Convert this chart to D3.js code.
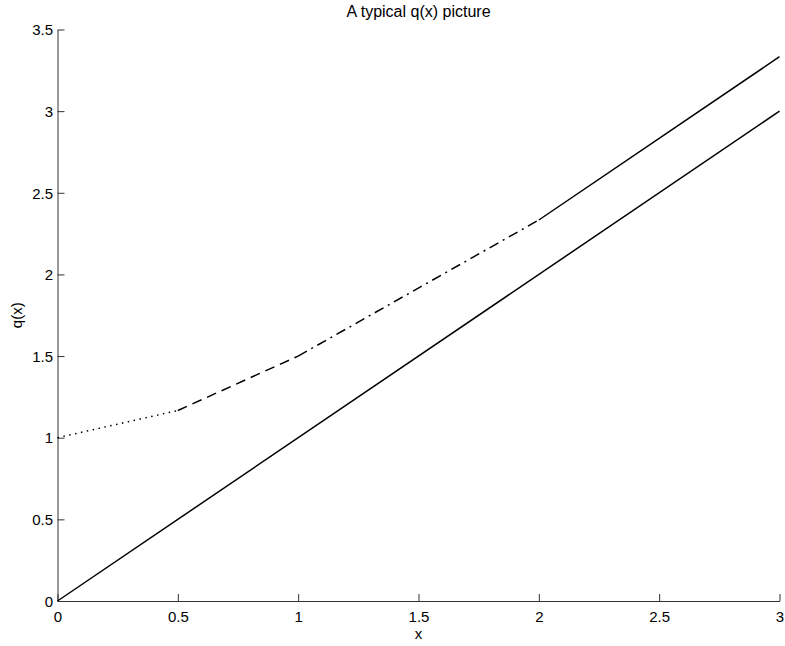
<!DOCTYPE html>
<html>
<head>
<meta charset="utf-8">
<script src="https://cdn.jsdelivr.net/npm/d3@7"></script>
<style>
  body { margin: 0; background: #fff; }
  text { font-family: "Liberation Sans", Arial, sans-serif; }
</style>
</head>
<body>
<div id="chart"></div>
<script>
const width = 785;
const height = 646;
const marginLeft = 57.5, marginRight = 5.5, marginTop = 29.5, marginBottom = 45;

// data
const xTicks = [0, 0.5, 1, 1.5, 2, 2.5, 3];
const yTicks = [0, 0.5, 1, 1.5, 2, 2.5, 3, 3.5];
const diagonal = [[0, 0], [3, 3]];
const dottedPart = [[0, 1], [0.5, 7 / 6]];
const dashedPart = [[0.5, 7 / 6], [1, 1.5]];
const dashDotPart = [[1, 1.5], [2, 7 / 3]];
const solidPart = [[2, 7 / 3], [3, 10 / 3]];

const svg = d3.select("#chart").append("svg")
    .attr("width", width)
    .attr("height", height);

const x = d3.scaleLinear().domain([0, 3]).range([marginLeft, width - marginRight]);
const y = d3.scaleLinear().domain([0, 3.5]).range([height - marginBottom, marginTop]);

// x axis
const xAxis = svg.append("g")
    .attr("transform", `translate(0,${y(0)})`)
    .call(d3.axisBottom(x).tickValues(xTicks).tickFormat(d3.format("")).tickSizeInner(-7).tickSizeOuter(0));
// y axis
const yAxis = svg.append("g")
    .attr("transform", `translate(${x(0)},0)`)
    .call(d3.axisLeft(y).tickValues(yTicks).tickFormat(d3.format("")).tickSizeInner(-7).tickSizeOuter(0));

[xAxis, yAxis].forEach(g => {
  g.attr("font-size", null).attr("font-family", null);
  g.select(".domain").attr("stroke", "#333").attr("stroke-width", 1);
  g.selectAll(".tick line").attr("stroke", "#333");
  g.selectAll(".tick text").attr("fill", "#000")
    .style("font-size", "15px")
    .style("font-family", "'Liberation Sans', Arial, sans-serif");
});
yAxis.selectAll(".tick text").attr("x", -4.5).attr("dy", "0.35em");
xAxis.selectAll(".tick text").attr("y", 21).attr("dy", 0);

const line = d3.line().x(d => x(d[0])).y(d => y(d[1]));

function draw(data, dash) {
  svg.append("path")
      .datum(data)
      .attr("d", line)
      .attr("fill", "none")
      .attr("stroke", "#000")
      .attr("stroke-width", 1.5)
      .attr("stroke-dasharray", dash);
}

draw(diagonal, null);
draw(dottedPart, "1.5,4.5");
draw(dashedPart, "10,6");
draw(dashDotPart, "10,5,2,5");
draw(solidPart, null);

// title and labels
svg.append("text")
    .attr("x", (x(0) + x(3)) / 2)
    .attr("y", 16.5)
    .attr("text-anchor", "middle")
    .style("font-size", "16px")
    .text("A typical q(x) picture");

svg.append("text")
    .attr("x", (x(0) + x(3)) / 2)
    .attr("y", 639)
    .attr("text-anchor", "middle")
    .style("font-size", "15px")
    .text("x");

svg.append("text")
    .attr("transform", `translate(22,${(y(0) + y(3.5)) / 2}) rotate(-90)`)
    .attr("text-anchor", "middle")
    .style("font-size", "15px")
    .text("q(x)");
</script>
</body>
</html>
